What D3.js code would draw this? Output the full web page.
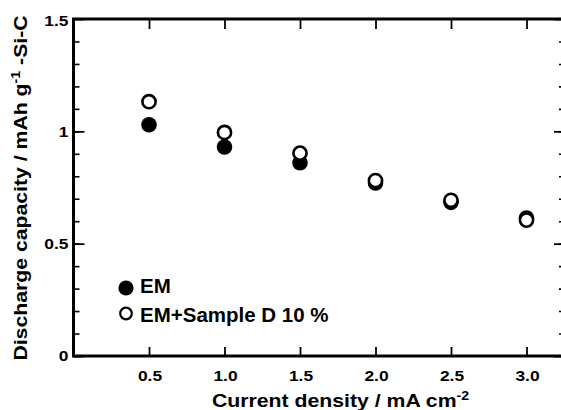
<!DOCTYPE html>
<html>
<head>
<meta charset="utf-8">
<script src="https://cdn.jsdelivr.net/npm/d3@7"></script>
<style>
  body { margin: 0; background: #fff; }
  text { font-family: "Liberation Sans", Arial, sans-serif; font-weight: bold; fill: #000; }
</style>
</head>
<body>
<svg id="chart" width="561" height="410"></svg>
<script>
// values
const currentDensity = [0.5, 1.0, 1.5, 2.0, 2.5, 3.0];
const emValues = [1.029, 0.930, 0.860, 0.770, 0.684, 0.614];
const emSampleValues = [1.132, 0.995, 0.903, 0.781, 0.693, 0.605];
const xTicks = [0.5, 1.0, 1.5, 2.0, 2.5, 3.0];
const yTicks = [0, 0.5, 1, 1.5];
const yMinorTicks = d3.range(0, 15).map(d => d / 10);
const legendNames = ["EM", "EM+Sample D 10 %"];

const plotLeft = 73.5, plotRight = 565, plotTop = 19, plotBottom = 356;
const wide = 1.2; // the labels in the original are drawn a bit wider than Arial

const svg = d3.select("#chart");

const x = d3.scaleLinear().domain([0, 3.25]).range([plotLeft, plotLeft + 3.25 * 151]);
const y = d3.scaleLinear().domain([0, 1.5]).range([plotBottom, plotTop]);

// minor ticks left and right
svg.append("g")
  .attr("transform", "translate(" + plotLeft + ",0)")
  .call(d3.axisRight(y).tickValues(yMinorTicks).tickSize(6).tickFormat(""))
  .call(g => g.select(".domain").remove())
  .selectAll("line").attr("stroke-width", 1.6);

svg.append("g")
  .attr("transform", "translate(" + plotRight + ",0)")
  .call(d3.axisLeft(y).tickValues(yMinorTicks).tickSize(6).tickFormat(""))
  .call(g => g.select(".domain").remove())
  .selectAll("line").attr("stroke-width", 1.6);

// major y ticks
svg.append("g")
  .attr("transform", "translate(" + plotLeft + ",0)")
  .call(d3.axisRight(y).tickValues(yTicks).tickSize(11).tickFormat(""))
  .call(g => g.select(".domain").remove())
  .selectAll("line").attr("stroke-width", 1.8);

svg.append("g")
  .attr("transform", "translate(" + plotRight + ",0)")
  .call(d3.axisLeft(y).tickValues(yTicks).tickSize(11).tickFormat(""))
  .call(g => g.select(".domain").remove())
  .selectAll("line").attr("stroke-width", 1.8);

// y tick labels
svg.append("g").selectAll("text")
  .data(yTicks)
  .join("text")
  .attr("transform", d => "translate(" + (plotLeft - 5) + "," + (y(d) + (d === 1.5 ? 2 : 0)) + ") scale(" + wide + ",1)")
  .attr("dy", "0.36em")
  .attr("text-anchor", "end")
  .style("font-size", "14.5px")
  .text(d => d3.format("")(d));

// x ticks bottom and top
svg.append("g")
  .attr("transform", "translate(0," + plotBottom + ")")
  .call(d3.axisTop(x).tickValues(xTicks).tickSize(9).tickFormat(""))
  .call(g => g.select(".domain").remove())
  .selectAll("line").attr("stroke-width", 1.8);

svg.append("g")
  .attr("transform", "translate(0," + plotTop + ")")
  .call(d3.axisBottom(x).tickValues(xTicks).tickSize(10).tickFormat(""))
  .call(g => g.select(".domain").remove())
  .selectAll("line").attr("stroke-width", 1.8);

svg.append("g").selectAll("text")
  .data(xTicks)
  .join("text")
  .attr("transform", d => "translate(" + (x(d) + 1) + ",381) scale(" + wide + ",1)")
  .attr("text-anchor", "middle")
  .style("font-size", "14.5px")
  .text(d => d3.format(".1f")(d));

// frame
svg.append("rect")
  .attr("x", plotLeft)
  .attr("y", plotTop)
  .attr("width", plotRight - plotLeft)
  .attr("height", plotBottom - plotTop)
  .attr("fill", "none")
  .attr("stroke", "#000")
  .attr("stroke-width", 3);

// points: EM filled, then EM + Sample D open on top
svg.append("g").selectAll("circle")
  .data(currentDensity)
  .join("circle")
  .attr("cx", d => x(d))
  .attr("cy", (d, i) => y(emValues[i]))
  .attr("r", 7.8)
  .attr("fill", "#000");

svg.append("g").selectAll("circle")
  .data(currentDensity)
  .join("circle")
  .attr("cx", d => x(d))
  .attr("cy", (d, i) => y(emSampleValues[i]))
  .attr("r", 6.6)
  .attr("fill", "#fff")
  .attr("stroke", "#000")
  .attr("stroke-width", 2.6);

// legend
const legend = svg.append("g");
legend.append("circle").attr("cx", 126).attr("cy", 288).attr("r", 7.6).attr("fill", "#000");
legend.append("circle").attr("cx", 126).attr("cy", 313.5).attr("r", 5.8)
  .attr("fill", "#fff").attr("stroke", "#000").attr("stroke-width", 2.2);
legend.selectAll("text")
  .data(legendNames)
  .join("text")
  .attr("x", 140)
  .attr("y", (d, i) => 292.5 + i * 29.5)
  .style("font-size", "20.5px")
  .text(d => d);

// axis titles
const xTitle = svg.append("text")
  .attr("transform", "translate(212,407) scale(1.18,1)")
  .style("font-size", "18px");
xTitle.append("tspan").text("Current density / mA cm");
xTitle.append("tspan").attr("dy", -7).style("font-size", "12px").text("-2");

const yTitle = svg.append("text")
  .attr("transform", "translate(27,188) rotate(-90) scale(1.18,1)")
  .attr("text-anchor", "middle")
  .style("font-size", "18px");
yTitle.append("tspan").text("Discharge capacity / mAh g");
yTitle.append("tspan").attr("dy", -7).style("font-size", "12px").text("-1");
yTitle.append("tspan").attr("dy", 7).text(" -Si-C");
</script>
</body>
</html>
